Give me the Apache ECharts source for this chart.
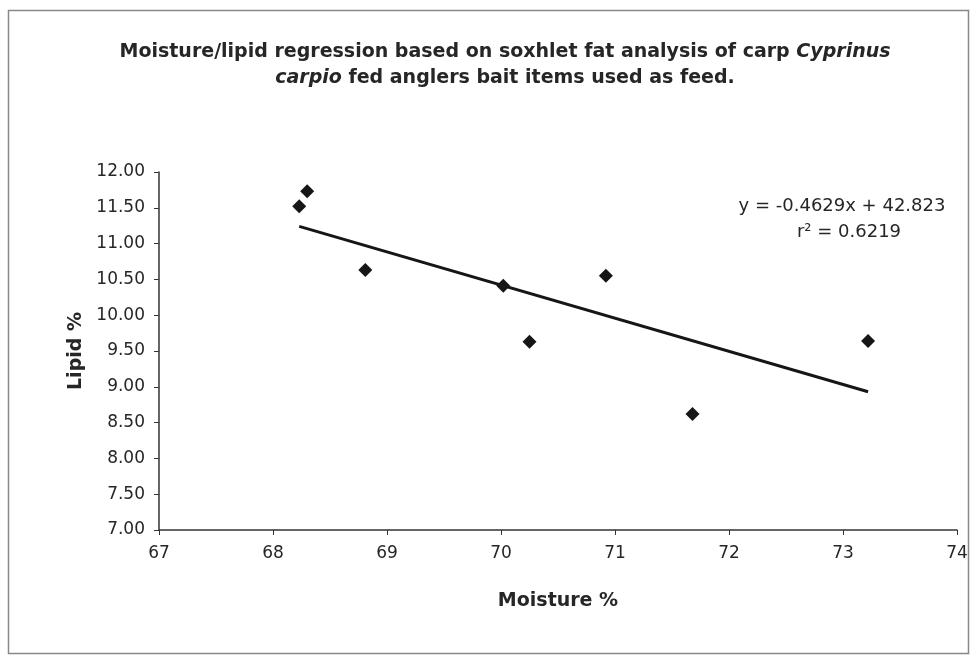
<!DOCTYPE html>
<html><head><meta charset="utf-8">
<script src="https://cdn.jsdelivr.net/npm/echarts@6/dist/echarts.min.js"></script>
<style>html,body{margin:0;padding:0;background:#fff}#c{width:976px;height:660px}</style>
</head><body><div id="c"></div>
<script>
var moisture = [68.23, 68.30, 68.81, 70.02, 70.25, 70.92, 71.68, 73.22];
var lipid    = [11.52, 11.73, 10.63, 10.41, 9.63, 10.55, 8.62, 9.64];
var trendX = [68.23, 73.22];
var trendY = [11.24, 8.93];
var yTickLabels = ['7.00','7.50','8.00','8.50','9.00','9.50','10.00','10.50','11.00','11.50','12.00'];
var xTickLabels = ['67','68','69','70','71','72','73','74'];
var equationText = 'y = -0.4629x + 42.823';
var r2Text = 'r² = 0.6219';

var chart = echarts.init(document.getElementById('c'));
var ink = '#262626';
var F = 'DejaVu Sans';
chart.setOption({
  backgroundColor: '#fff',
  animation: false,
  title: {
    left: 500, top: 34, textAlign: 'center',
    text: '{b|Moisture/lipid regression based on soxhlet fat analysis of carp }{i|Cyprinus}\n{i|carpio}{b| fed anglers bait items used as feed.}',
    textStyle: {
      lineHeight: 26,
      rich: {
        b: {fontFamily: F, fontWeight: 'bold', fontSize: 19, color: ink, lineHeight: 26},
        i: {fontFamily: F, fontWeight: 'bold', fontStyle: 'italic', fontSize: 19, color: ink, lineHeight: 26}
      }
    }
  },
  grid: {left: 159, right: 19, top: 172, bottom: 130},
  xAxis: {
    type: 'value', min: 67, max: 74, interval: 1,
    name: 'Moisture %', nameLocation: 'middle', nameGap: 62,
    nameTextStyle: {fontFamily: F, fontWeight: 'bold', fontSize: 19, color: ink},
    axisLine: {lineStyle: {color: '#333', width: 1.5}},
    axisTick: {show: true, length: 5, lineStyle: {color: '#333'}},
    axisLabel: {fontFamily: F, fontSize: 17, color: ink, margin: 15,
      formatter: function(v){ var i = xTickLabels.indexOf(String(v)); return i >= 0 ? xTickLabels[i] : ''; }},
    splitLine: {show: false}
  },
  yAxis: {
    type: 'value', min: 7, max: 12, interval: 0.5,
    name: 'Lipid %', nameLocation: 'middle', nameGap: 20, nameRotate: 90,
    nameTextStyle: {fontFamily: F, fontWeight: 'bold', fontSize: 19, color: ink},
    axisLine: {show: true, lineStyle: {color: '#333', width: 1.5}},
    axisTick: {show: true, length: 5, lineStyle: {color: '#333'}},
    axisLabel: {fontFamily: F, fontSize: 17, color: ink, margin: 14,
      formatter: function(v){ return yTickLabels[Math.round((v - 7) / 0.5)]; }},
    splitLine: {show: false}
  },
  series: [
    {
      type: 'line', data: trendX.map(function(x, i){ return [x, trendY[i]]; }),
      symbol: 'none', lineStyle: {color: '#161616', width: 3}, z: 2
    },
    {
      type: 'scatter', data: moisture.map(function(x, i){ return [x, lipid[i]]; }),
      symbol: 'diamond', symbolSize: 14, itemStyle: {color: '#161616', opacity: 1}, z: 3
    }
  ],
  graphic: [
    {type: 'rect', shape: {x: 8.5, y: 10.5, width: 960, height: 643},
     style: {fill: 'none', stroke: '#888', lineWidth: 1.5}, silent: true},
    {type: 'text', x: 842, y: 206, style: {text: equationText, font: '18px "DejaVu Sans"', fill: ink, align: 'center', verticalAlign: 'middle'}},
    {type: 'text', x: 849, y: 232, style: {text: r2Text, font: '18px "DejaVu Sans"', fill: ink, align: 'center', verticalAlign: 'middle'}}
  ]
});
</script></body></html>
